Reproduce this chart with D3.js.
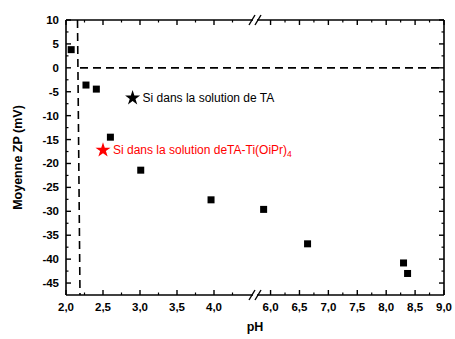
<!DOCTYPE html>
<html><head><meta charset="utf-8">
<script src="https://cdn.jsdelivr.net/npm/d3@7"></script>
<style>body{margin:0;background:#fff}svg{display:block;font-family:"Liberation Sans",Arial,sans-serif}</style>
</head><body><svg id="c" width="455" height="339"></svg>
<script>
const pH = [2.07, 2.27, 2.41, 2.60, 3.01, 3.96, 5.88, 6.64, 8.30, 8.37];
const zp = [3.8, -3.6, -4.45, -14.5, -21.4, -27.6, -29.6, -36.8, -40.8, -43.0];
const starPH = [2.9, 2.5];
const starZP = [-6.1, -17.0];
const starLabels = ["Si dans la solution de TA", "Si dans la solution deTA-Ti(OiPr)"];
const starColors = ["#000", "#ff0000"];
const leftTicks = [2.0, 2.5, 3.0, 3.5, 4.0];
const rightTicks = [6.0, 6.5, 7.0, 7.5, 8.0, 8.5, 9.0];
const yTicks = [-45, -40, -35, -30, -25, -20, -15, -10, -5, 0, 5, 10];

const svg = d3.select("#c");
const L = 66, R = 444, T = 20, B = 295, brk = 255;
const xl = d3.scaleLinear().domain([2.0, 4.5]).range([L, 251]);
const xr = d3.scaleLinear().domain([5.8, 9.0]).range([259, R]);
const X = v => v <= 4.6 ? xl(v) : xr(v);
const y = d3.scaleLinear().domain([-47.5, 10]).range([B, T]);
const fmt = v => d3.format(".1f")(v).replace(".", ",");

// dashed reference lines
svg.append("line").attr("x1", 77.5).attr("x2", 80).attr("y1", T).attr("y2", B)
  .attr("stroke", "#000").attr("stroke-width", 1.6).attr("stroke-dasharray", "8,5");
svg.append("line").attr("x1", 80).attr("x2", R).attr("y1", y(0)).attr("y2", y(0))
  .attr("stroke", "#000").attr("stroke-width", 1.6).attr("stroke-dasharray", "8,5");

// axes frame
const g = svg.append("g");
g.append("line").attr("x1", L).attr("x2", L).attr("y1", T).attr("y2", B).attr("stroke", "#000").attr("stroke-width", 1.6);
g.append("line").attr("x1", R).attr("x2", R).attr("y1", T).attr("y2", B).attr("stroke", "#000").attr("stroke-width", 1.6);
[T, B].forEach(yy => {
  g.append("line").attr("x1", L).attr("x2", brk - 2).attr("y1", yy).attr("y2", yy).attr("stroke", "#000").attr("stroke-width", 1.6);
  g.append("line").attr("x1", brk + 2).attr("x2", R).attr("y1", yy).attr("y2", yy).attr("stroke", "#000").attr("stroke-width", 1.6);
  [-3, 3].forEach(dx => g.append("line").attr("x1", brk + dx - 3).attr("x2", brk + dx + 3).attr("y1", yy + 5).attr("y2", yy - 5).attr("stroke", "#000").attr("stroke-width", 1.4));
});

// x ticks
const xMajor = leftTicks.map(v => [v, xl(v)]).concat(rightTicks.map(v => [v, xr(v)]));
const xMinor = [2.25, 2.75, 3.25, 3.75, 4.25].map(v => xl(v)).concat([6.25, 6.75, 7.25, 7.75, 8.25, 8.75].map(v => xr(v)));
xMajor.forEach(([v, px]) => {
  g.append("line").attr("x1", px).attr("x2", px).attr("y1", B).attr("y2", B - 5).attr("stroke", "#000").attr("stroke-width", 1.4);
  g.append("line").attr("x1", px).attr("x2", px).attr("y1", T).attr("y2", T + 5).attr("stroke", "#000").attr("stroke-width", 1.4);
  g.append("text").attr("x", px).attr("y", B + 16).attr("text-anchor", "middle")
    .attr("font-size", 11.5).attr("font-weight", "bold").text(fmt(v));
});
xMinor.forEach(px => {
  g.append("line").attr("x1", px).attr("x2", px).attr("y1", B).attr("y2", B - 2.5).attr("stroke", "#000").attr("stroke-width", 1.2);
  g.append("line").attr("x1", px).attr("x2", px).attr("y1", T).attr("y2", T + 2.5).attr("stroke", "#000").attr("stroke-width", 1.2);
});

// y ticks
yTicks.forEach(v => {
  const py = y(v);
  g.append("line").attr("x1", L).attr("x2", L + 5).attr("y1", py).attr("y2", py).attr("stroke", "#000").attr("stroke-width", 1.4);
  g.append("line").attr("x1", R).attr("x2", R - 5).attr("y1", py).attr("y2", py).attr("stroke", "#000").attr("stroke-width", 1.4);
  g.append("text").attr("x", L - 7).attr("y", py + 4).attr("text-anchor", "end")
    .attr("font-size", 11.5).attr("font-weight", "bold").text(v);
});
d3.range(-42.5, 10, 5).forEach(v => {
  const py = y(v);
  g.append("line").attr("x1", L).attr("x2", L + 2.5).attr("y1", py).attr("y2", py).attr("stroke", "#000").attr("stroke-width", 1.2);
  g.append("line").attr("x1", R).attr("x2", R - 2.5).attr("y1", py).attr("y2", py).attr("stroke", "#000").attr("stroke-width", 1.2);
});

// data squares
svg.selectAll("rect.pt").data(pH).enter().append("rect").attr("class", "pt")
  .attr("x", (d, i) => X(d) - 3.5).attr("y", (d, i) => y(zp[i]) - 3.5)
  .attr("width", 7).attr("height", 7).attr("fill", "#000");

// stars
const star = d3.symbol().type(d3.symbolStar).size(70);
starPH.forEach((v, i) => {
  svg.append("path").attr("d", star).attr("transform", `translate(${X(v)},${y(starZP[i]) + 1})`).attr("fill", starColors[i]);
  const t = svg.append("text").attr("x", X(v) + 10).attr("y", y(starZP[i]) + 5)
    .attr("font-size", 12).attr("fill", starColors[i]).text(starLabels[i]);
  if (i === 1) t.append("tspan").attr("font-size", 8.5).attr("dy", 3).text("4");
});

// axis titles
svg.append("text").attr("x", 255).attr("y", 331).attr("text-anchor", "middle")
  .attr("font-size", 12.5).attr("font-weight", "bold").text("pH");
svg.append("text").attr("transform", `translate(22,${(T + B) / 2}) rotate(-90)`).attr("text-anchor", "middle")
  .attr("font-size", 12.5).attr("font-weight", "bold").text("Moyenne ZP (mV)");
</script></body></html>
